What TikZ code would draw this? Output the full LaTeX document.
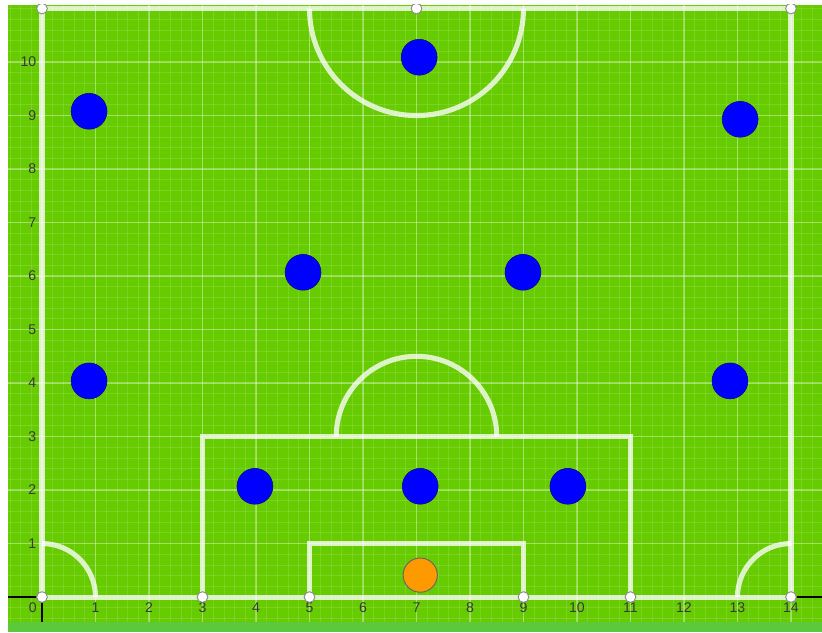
\documentclass[tikz,border=0pt]{standalone}
\usepackage{fontspec}
\setmainfont{Liberation Sans}
\definecolor{pitch}{HTML}{66CC00}
\definecolor{pitchlow}{HTML}{5CC93A}
\definecolor{player}{HTML}{0000FF}
\definecolor{ballc}{HTML}{FF9900}
\definecolor{labelc}{HTML}{3A3A3A}
\tikzset{
  fieldline/.style={draw=white, draw opacity=0.78, line width=2.7pt},
  majorgrid/.style={draw=white, draw opacity=0.32, line width=0.6pt},
  minorgrid/.style={draw=white, draw opacity=0.12, line width=0.4pt},
  bluep/.style={circle, fill=player, draw=player!60!black, line width=0.3pt, minimum width=0.67cm, minimum height=0.64cm, inner sep=0pt},
  orangep/.style={circle, fill=ballc, draw=black!60, line width=0.5pt, minimum size=0.64cm, inner sep=0pt},
  pin/.style={circle, fill=white, draw=black!45, line width=0.5pt, minimum size=0.2cm, inner sep=0pt},
  axlabel/.style={text=labelc, font=\fontsize{7.5}{9}\selectfont, inner sep=0pt}
}
\begin{document}
\begin{tikzpicture}
\useasboundingbox (-0.785,-0.654) rectangle (14.58,11.16);
\fill[white] (-0.785,-0.654) rectangle (14.58,11.16);
\fill[pitch] (-0.636,-0.467) rectangle (14.58,11.07);
\fill[pitchlow] (-0.636,-0.654) rectangle (14.58,-0.467);
% grid
\clip (-0.636,-0.467) rectangle (14.58,11.07);
\foreach \i in {-3,...,72} { \draw[minorgrid] (\i*0.2,-0.467) -- (\i*0.2,11.07); }
\foreach \j in {-2,...,55} { \draw[minorgrid] (-0.636,\j*0.2) -- (14.58,\j*0.2); }
\foreach \i in {0,...,14} { \draw[majorgrid] (\i,-0.467) -- (\i,11.07); }
\foreach \j in {1,...,10} { \draw[majorgrid] (-0.636,\j) -- (14.58,\j); }
% axes
\draw[black, line width=0.6pt] (-0.636,0) -- (0,0);
\draw[black, line width=0.6pt] (14,0) -- (14.58,0);
\draw[black, line width=0.6pt] (0,0) -- (0,-0.467);
% axis labels
\node[axlabel] (lx0) at (-0.17,-0.2) {0};
\foreach \i in {1,...,14} { \node[axlabel] (lx\i) at (\i,-0.2) {\i}; }
\foreach \j in {1,...,10} { \node[axlabel, anchor=east] (ly\j) at (-0.1,\j) {\j}; }
% field lines
\draw[fieldline] (0,0) rectangle (14,11);
\draw[fieldline] (3,0) -- (3,3) -- (11,3) -- (11,0);
\draw[fieldline] (5,0) -- (5,1) -- (9,1) -- (9,0);
\draw[fieldline] (5.5,3) arc[start angle=180, end angle=0, radius=1.5];
\draw[fieldline] (5,11) arc[start angle=180, end angle=360, radius=2];
\draw[fieldline] (0,1) arc[start angle=90, end angle=0, radius=1];
\draw[fieldline] (13,0) arc[start angle=180, end angle=90, radius=1];
% pins
\foreach \p/\x/\y in {a/0/0,b/3/0,c/5/0,d/9/0,e/11/0,f/14/0,g/0/11,h/7/11,k/14/11} {
  \node[pin] (pin\p) at (\x,\y) {};
}
% players
\node[bluep] (p1) at (7.05,10.09) {};
\node[bluep] (p2) at (0.88,9.08) {};
\node[bluep] (p3) at (13.05,8.93) {};
\node[bluep] (p4) at (4.88,6.07) {};
\node[bluep] (p5) at (8.99,6.07) {};
\node[bluep] (p6) at (0.88,4.04) {};
\node[bluep] (p7) at (12.86,4.04) {};
\node[bluep] (p8) at (3.98,2.07) {};
\node[bluep] (p9) at (7.07,2.07) {};
\node[bluep] (p10) at (9.83,2.07) {};
\node[orangep] (gk) at (7.07,0.41) {};
\end{tikzpicture}
\end{document}
